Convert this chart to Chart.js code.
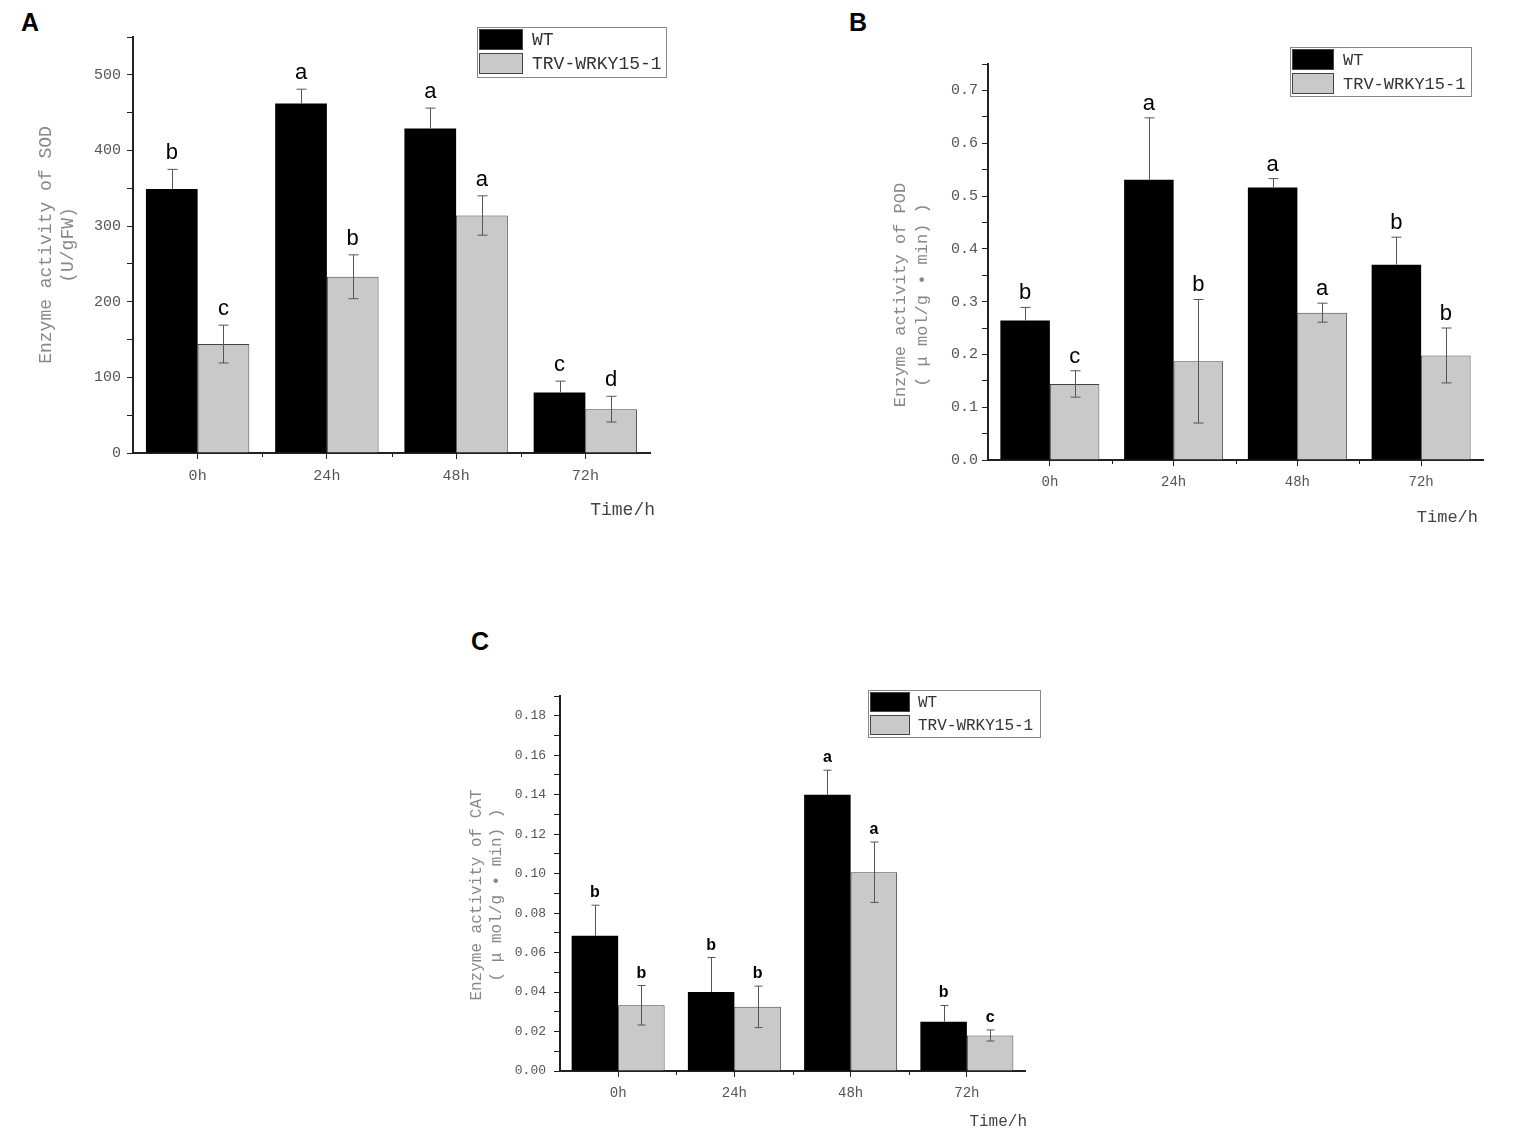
<!DOCTYPE html>
<html>
<head>
<meta charset="utf-8">
<script src="https://cdn.jsdelivr.net/npm/chart.js@4.4.1/dist/chart.umd.min.js"></script>
<style>
  body { margin: 0; background: #fff; width: 1535px; height: 1137px; position: relative; overflow: hidden; }
  canvas { position: absolute; }
  .tag { position: absolute; font: bold 25px "Liberation Sans", Arial, sans-serif; color: #000; }
</style>
</head>
<body>
<div class="tag" style="left:21px;top:8px">A</div>
<div class="tag" style="left:849px;top:8px">B</div>
<div class="tag" style="left:471px;top:627px">C</div>
<canvas id="sod" style="left:0px;top:0px"></canvas>
<canvas id="pod" style="left:840px;top:0px"></canvas>
<canvas id="cat" style="left:420px;top:630px"></canvas>
<script>
const times = ['0h', '24h', '48h', '72h'];
const seriesNames = ['WT', 'TRV-WRKY15-1'];

// SOD (U/gFW)
const sodWT = [349, 462, 429, 80];
const sodWTsd = [26, 19, 27, 15];
const sodTRV = [144, 233, 314, 58];
const sodTRVsd = [25, 29, 26, 17];
const sodWTletters = ['b', 'a', 'a', 'c'];
const sodTRVletters = ['c', 'b', 'a', 'd'];

// POD (umol/g*min)
const podWT = [0.264, 0.531, 0.516, 0.370];
const podWTsd = [0.025, 0.117, 0.017, 0.052];
const podTRV = [0.144, 0.187, 0.279, 0.198];
const podTRVsd = [0.025, 0.117, 0.018, 0.052];
const podWTletters = ['b', 'a', 'a', 'b'];
const podTRVletters = ['c', 'b', 'a', 'b'];

// CAT (umol/g*min)
const catWT = [0.0685, 0.040, 0.140, 0.025];
const catWTsd = [0.0155, 0.0175, 0.0124, 0.0082];
const catTRV = [0.0333, 0.0325, 0.1007, 0.018];
const catTRVsd = [0.010, 0.0105, 0.0153, 0.0028];
const catWTletters = ['b', 'b', 'a', 'b'];
const catTRVletters = ['b', 'b', 'a', 'c'];

const MONO = '"Liberation Mono", "DejaVu Sans Mono", monospace';
const SANS = '"Liberation Sans", Arial, sans-serif';

// error bars, significance letters, legend box, axis titles
const panelDecor = {
  id: 'panelDecor',
  afterDatasetsDraw(chart, args, o) {
    const ctx = chart.ctx;
    const y = chart.scales.y;
    const area = chart.chartArea;
    ctx.save();

    // minor ticks on the x axis at category boundaries
    ctx.strokeStyle = '#222';
    ctx.lineWidth = 1;
    const step = (area.right - area.left) / times.length;
    for (let i = 1; i < times.length; i++) {
      const px = Math.round(area.left + step * i) + 0.5;
      ctx.beginPath();
      ctx.moveTo(px, area.bottom);
      ctx.lineTo(px, area.bottom + 4);
      ctx.stroke();
    }

    chart.data.datasets.forEach((ds, di) => {
      const meta = chart.getDatasetMeta(di);
      meta.data.forEach((bar, i) => {
        const v = ds.data[i];
        const sd = ds.sd[i];
        const top = y.getPixelForValue(v + sd);
        const low = ds.upOnly ? y.getPixelForValue(v) : y.getPixelForValue(v - sd);
        const bx = Math.round(bar.x) + 0.5;
        ctx.strokeStyle = '#555';
        ctx.lineWidth = 1;
        ctx.beginPath();
        ctx.moveTo(bx, top);
        ctx.lineTo(bx, low);
        ctx.moveTo(bx - o.cap, top);
        ctx.lineTo(bx + o.cap, top);
        if (!ds.upOnly) {
          ctx.moveTo(bx - o.cap, low);
          ctx.lineTo(bx + o.cap, low);
        }
        ctx.stroke();
        ctx.fillStyle = '#000';
        ctx.font = o.letterFont;
        ctx.textAlign = 'center';
        ctx.textBaseline = 'alphabetic';
        ctx.fillText(ds.letters[i], bar.x, top - o.letterGap);
      });
    });

    // legend
    const lg = o.legend;
    ctx.fillStyle = '#fff';
    ctx.fillRect(lg.x, lg.y, lg.w, lg.h);
    ctx.strokeStyle = '#888';
    ctx.lineWidth = 1;
    ctx.strokeRect(lg.x + 0.5, lg.y + 0.5, lg.w, lg.h);
    chart.data.datasets.forEach((ds, di) => {
      const sy = lg.y + 2 + di * (lg.sh + 3);
      ctx.fillStyle = ds.backgroundColor;
      ctx.fillRect(lg.x + 2, sy, lg.sw, lg.sh);
      ctx.strokeStyle = '#444';
      ctx.strokeRect(lg.x + 2.5, sy + 0.5, lg.sw - 1, lg.sh - 1);
      ctx.fillStyle = '#333';
      ctx.font = lg.font;
      ctx.textAlign = 'left';
      ctx.textBaseline = 'middle';
      ctx.fillText(ds.label, lg.tx, sy + lg.sh / 2 + 1);
    });

    // y axis title (two lines, rotated)
    ctx.fillStyle = '#888';
    ctx.font = o.yTitle.font;
    ctx.textAlign = 'center';
    ctx.textBaseline = 'middle';
    o.yTitle.lines.forEach((t, k) => {
      ctx.save();
      ctx.translate(o.yTitle.x[k], o.yTitle.cy);
      ctx.rotate(-Math.PI / 2);
      ctx.fillText(t, 0, 0);
      ctx.restore();
    });

    // x axis title
    ctx.fillStyle = '#444';
    ctx.font = o.xTitle.font;
    ctx.textAlign = 'right';
    ctx.fillText(o.xTitle.text, area.right + o.xTitle.dx, area.bottom + o.xTitle.dy);
    ctx.restore();
  }
};

function makePanel(id, box, wt, wtSd, wtL, trv, trvSd, trvL, yCfg, decor) {
  const cv = document.getElementById(id);
  cv.width = box.w;
  cv.height = box.h;
  cv.style.width = box.w + 'px';
  cv.style.height = box.h + 'px';
  return new Chart(cv, {
    type: 'bar',
    data: {
      labels: times,
      datasets: [
        { label: seriesNames[0], data: wt, sd: wtSd, letters: wtL, upOnly: true,
          backgroundColor: '#000', borderColor: '#000', borderWidth: 0 },
        { label: seriesNames[1], data: trv, sd: trvSd, letters: trvL, upOnly: false,
          backgroundColor: '#c9c9c9', borderColor: '#444', borderWidth: 1 }
      ]
    },
    options: {
      responsive: false,
      animation: false,
      devicePixelRatio: 1,
      layout: { autoPadding: false, padding: box.pad },
      categoryPercentage: 0.8,
      barPercentage: 1.0,
      plugins: {
        legend: { display: false },
        tooltip: { enabled: false },
        panelDecor: decor
      },
      scales: {
        x: {
          afterFit: s => { s.height = box.xh; },
          grid: { offset: false, drawOnChartArea: false, tickLength: 6, color: '#222', lineWidth: 1 },
          border: { color: '#222', width: 2 },
          ticks: { color: '#555', font: { family: MONO, size: yCfg.xFont }, padding: 8 }
        },
        y: {
          min: 0,
          max: yCfg.max,
          afterFit: s => { s.width = box.yw; },
          grid: { drawOnChartArea: false, tickLength: 6, color: '#222', lineWidth: 1 },
          border: { color: '#222', width: 2 },
          ticks: {
            stepSize: yCfg.step,
            color: '#555',
            padding: yCfg.pad,
            font: { family: MONO, size: yCfg.font },
            callback: v => {
              const k = Math.round(v / yCfg.step);
              return k % 2 === 0 ? (k * yCfg.step).toFixed(yCfg.dec) : '';
            }
          }
        }
      }
    },
    plugins: [panelDecor]
  });
}

makePanel('sod',
  { w: 700, h: 540, yw: 133, xh: 87, pad: { top: 37, right: 50, bottom: 0, left: 0 } },
  sodWT, sodWTsd, sodWTletters, sodTRV, sodTRVsd, sodTRVletters,
  { max: 550, step: 50, dec: 0, font: 15, xFont: 15, pad: 6 },
  {
    cap: 5, letterGap: 10, letterFont: '22px ' + SANS,
    legend: { x: 477, y: 27, w: 189, h: 50, sw: 44, sh: 21, tx: 532, font: '18px ' + MONO },
    yTitle: { lines: ['Enzyme activity of SOD', '(U/gFW)'], x: [46, 68], cy: 245, font: '18px ' + MONO },
    xTitle: { text: 'Time/h', dx: 5, dy: 57, font: '18px ' + MONO }
  });

makePanel('pod',
  { w: 695, h: 545, yw: 148, xh: 85, pad: { top: 64, right: 52, bottom: 0, left: 0 } },
  podWT, podWTsd, podWTletters, podTRV, podTRVsd, podTRVletters,
  { max: 0.75, step: 0.05, dec: 1, font: 15, xFont: 14, pad: 4 },
  {
    cap: 5, letterGap: 8, letterFont: '22px ' + SANS,
    legend: { x: 450, y: 47, w: 181, h: 49, sw: 42, sh: 21, tx: 503, font: '17px ' + MONO },
    yTitle: { lines: ['Enzyme activity of POD', '( \u03bc mol/g \u2022 min) )'], x: [60, 82], cy: 295, font: '17px ' + MONO },
    xTitle: { text: 'Time/h', dx: -5, dy: 57, font: '17px ' + MONO }
  });

makePanel('cat',
  { w: 700, h: 505, yw: 140, xh: 64, pad: { top: 66, right: 95, bottom: 0, left: 0 } },
  catWT, catWTsd, catWTletters, catTRV, catTRVsd, catTRVletters,
  { max: 0.19, step: 0.01, dec: 2, font: 13, xFont: 14, pad: 8 },
  {
    cap: 4, letterGap: 8, letterFont: 'bold 16px ' + SANS,
    legend: { x: 448, y: 60, w: 172, h: 47, sw: 40, sh: 20, tx: 498, font: '16px ' + MONO },
    yTitle: { lines: ['Enzyme activity of CAT', '( \u03bc mol/g \u2022 min) )'], x: [57, 77], cy: 265, font: '16px ' + MONO },
    xTitle: { text: 'Time/h', dx: 2, dy: 51, font: '16px ' + MONO }
  });
</script>
</body>
</html>
